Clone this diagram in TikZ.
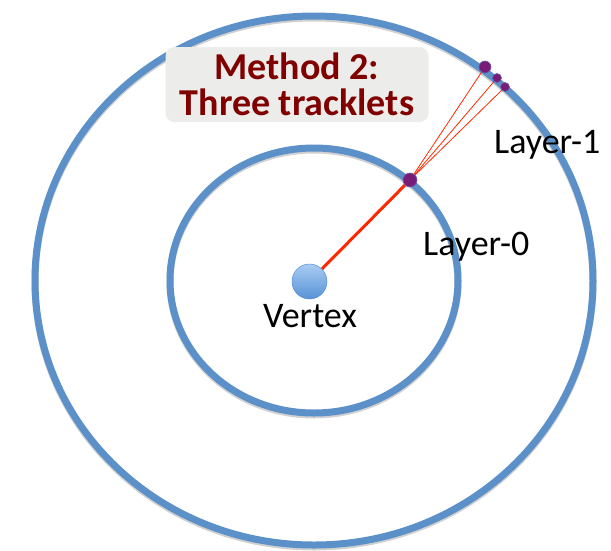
\documentclass[tikz,border=0pt]{standalone}
\usepackage{fontspec}
\setmainfont{Carlito}
\usepackage{tikz}
\definecolor{LayerBlue}{RGB}{91,144,200}
\definecolor{HitPurple}{RGB}{120,28,120}
\definecolor{TrackRed}{RGB}{255,40,0}
\definecolor{TitleRed}{RGB}{128,0,0}
\definecolor{BoxGray}{RGB}{236,236,234}
\definecolor{VertexLight}{RGB}{170,204,242}
\definecolor{VertexDark}{RGB}{86,146,214}

\begin{document}
\begin{tikzpicture}[x=1pt,y=-1pt,
    layer/.style={draw=LayerBlue,line width=7pt},
    layershadow/.style={draw=black!18,line width=7pt},
    hit/.style={circle,fill=HitPurple,draw=LayerBlue!60!HitPurple,line width=0.6pt,inner sep=0pt},
    track/.style={TrackRed,line width=0.8pt},
    label/.style={font=\fontsize{36}{40}\selectfont,inner sep=0pt}]
  \useasboundingbox (0,0) rectangle (611,550);
  \coordinate (O) at (314,280.5);
  % the two layers
  \draw[layershadow] ([yshift=-2pt]O) ellipse [x radius=279pt,y radius=264.5pt];
  \draw[layershadow] ([yshift=-2pt]O) ellipse [x radius=144pt,y radius=132.5pt];
  \draw[layer] (O) ellipse [x radius=279pt,y radius=264.5pt];
  \draw[layer] (O) ellipse [x radius=144pt,y radius=132.5pt];
  % title
  \node[fill=BoxGray,rounded corners=9pt,minimum width=263pt,minimum height=75pt,
    inner sep=0pt,text=TitleRed,align=center,
    font=\fontsize{38}{36}\selectfont\bfseries] (title) at (297,84.5)
    {Method 2:\\Three tracklets};
  % vertex and hits
  \node[circle,minimum size=35pt,inner sep=0pt,top color=VertexLight,
    bottom color=VertexDark,draw=VertexDark,line width=0.5pt] (vertex) at (309.5,281.5) {};
  \node[hit,minimum size=14pt] (hit0) at (410,180) {};
  \node[hit,minimum size=12pt] (hit1a) at (485,67) {};
  \node[hit,minimum size=9pt] (hit1b) at (497,78) {};
  \node[hit,minimum size=9pt] (hit1c) at (505,87) {};
  \draw[TrackRed,line width=3pt] (vertex) -- (hit0);
  \foreach \h in {hit1a,hit1b,hit1c}
    \draw[track] (hit0) -- (\h);
  % labels
  \node[label,anchor=base west] (layer1) at (494,153.5) {Layer-1};
  \node[label,anchor=base west] (layer0) at (423,255.5) {Layer-0};
  \node[label,anchor=base] (vlabel) at (310,327) {Vertex};
\end{tikzpicture}
\end{document}
